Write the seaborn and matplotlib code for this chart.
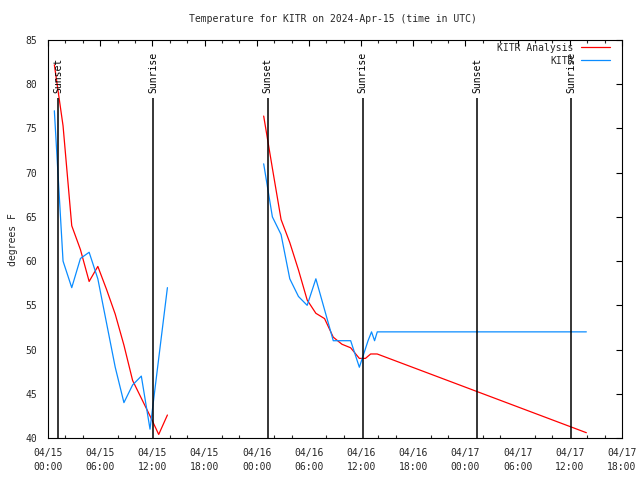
import numpy as np
import pandas as pd
import matplotlib
matplotlib.use("Agg")
import matplotlib.pyplot as plt
import matplotlib.dates as mdates
from matplotlib.lines import Line2D
import seaborn as sns

# ---------------- data (hours after 2024-04-15 00:00 UTC) ----------------
seg1_hours = [0.73, 1.73, 2.73, 3.73, 4.73, 5.73, 6.73, 7.73, 8.73, 9.73,
              10.73, 11.73, 12.73, 13.73]
analysis_seg1 = [82.2, 75.3, 64.0, 61.3, 57.7, 59.4, 56.8, 54.0, 50.5, 46.5,
                 44.5, 42.5, 40.4, 42.6]
obs_seg1 = [77, 60, 57, 60.3, 61, 58, 53, 48, 44, 46, 47, 41, 49, 57]

analysis_seg2_hours = [24.8, 25.8, 26.8, 27.8, 28.8, 29.8, 30.8, 31.8, 32.8,
                       33.8, 34.8, 35.8, 36.5, 37.1, 37.85, 61.9]
analysis_seg2 = [76.4, 70.5, 64.7, 62.1, 59.0, 55.6, 54.1, 53.5, 51.4,
                 50.6, 50.2, 49.0, 49.0, 49.5, 49.5, 40.6]

obs_seg2_hours = [24.8, 25.8, 26.8, 27.8, 28.8, 29.8, 30.8, 31.8, 32.8, 33.8,
                  34.8, 35.8, 36.8, 37.2, 37.55, 37.86, 61.9]
obs_seg2 = [71, 65, 63, 58, 56, 55, 58, 54.5, 51, 51,
            51, 48, 51, 52, 51, 52, 52]

sunset_hours = [1.19, 25.26, 49.37]
sunrise_hours = [12.13, 36.2, 60.15]

series_names = ["KITR Analysis", "KITR"]
series_colors = ["#ff0000", "#0a8cff"]

start = pd.Timestamp("2024-04-15 00:00")
x_end = pd.Timestamp("2024-04-17 18:00")
y_ticks = [40, 45, 50, 55, 60, 65, 70, 75, 80, 85]


def to_time(hours):
    return start + pd.to_timedelta(hours, unit="h")


frames = []
for name, seg, hrs, vals in [
    ("KITR Analysis", 1, seg1_hours, analysis_seg1),
    ("KITR Analysis", 2, analysis_seg2_hours, analysis_seg2),
    ("KITR", 1, seg1_hours, obs_seg1),
    ("KITR", 2, obs_seg2_hours, obs_seg2),
]:
    frames.append(pd.DataFrame({"time": to_time(hrs), "temp": vals,
                                "series": name, "seg": seg}))
df = pd.concat(frames, ignore_index=True)

# ---------------- plotting ----------------
sns.set_style("white")
mono = ["DejaVu Sans Mono"]
plt.rcParams["font.family"] = mono
plt.rcParams["font.size"] = 7

fig = plt.figure(figsize=(6.4, 4.8), dpi=100)
ax = fig.add_axes([48 / 640, 1 - 438 / 480, (622 - 48) / 640, (438 - 40) / 480])

palette = dict(zip(series_names, series_colors))
sns.lineplot(data=df, x="time", y="temp", hue="series", units="seg",
             estimator=None, palette=palette, hue_order=series_names,
             linewidth=0.9, ax=ax, legend=False, sort=False)

# sunrise / sunset markers
for hrs, label in [(sunset_hours, "Sunset"), (sunrise_hours, "Sunrise")]:
    for h in hrs:
        t = to_time(h)
        ax.vlines(t, 40, 78.4, color="black", linewidth=1.1, zorder=3)
        ax.text(t, 79.0, label, rotation=90, ha="center", va="bottom",
                fontsize=7, color="black")

ax.set_xlim(start, x_end)
ax.set_ylim(40, 85)
ax.set_yticks(y_ticks)
ax.set_yticklabels([str(v) for v in y_ticks])

ax.xaxis.set_major_locator(mdates.HourLocator(byhour=[0, 6, 12, 18]))
ax.xaxis.set_minor_locator(mdates.HourLocator(byhour=range(0, 24, 2)))
ax.xaxis.set_major_formatter(mdates.DateFormatter("%m/%d\n%H:%M"))
for lbl in ax.get_xticklabels():
    lbl.set_linespacing(1.5)

ax.tick_params(axis="both", which="major", direction="in", length=4.5,
               width=0.8, top=True, right=True, labelsize=7, color="black")
ax.tick_params(axis="x", which="major", pad=7.5)
ax.tick_params(axis="y", which="major", pad=8)
ax.tick_params(axis="x", which="minor", direction="in", length=2.5,
               width=0.8, top=True, bottom=True)
for s in ax.spines.values():
    s.set_color("black")
    s.set_linewidth(0.8)

ax.set_xlabel("")
ax.set_ylabel("")
fig.text(13 / 640, 0.5, "degrees F", rotation=90, ha="center", va="center",
         fontsize=7)
fig.text(333 / 640, 1 - 19 / 480,
         "Temperature for KITR on 2024-Apr-15 (time in UTC)",
         ha="center", va="center", fontsize=7)

handles = [Line2D([0], [0], color=c, linewidth=0.9) for c in series_colors]
leg = ax.legend(handles, series_names, loc="upper right",
                bbox_to_anchor=(0.99, 1.008), frameon=False,
                markerfirst=False, fontsize=7, handlelength=3.0,
                handletextpad=0.8, labelspacing=0.3, borderaxespad=0.2)
for txt in leg.get_texts():
    txt.set_ha("right")
leg._legend_box.align = "right"

fig.savefig("out.png", dpi=100, facecolor="white")
